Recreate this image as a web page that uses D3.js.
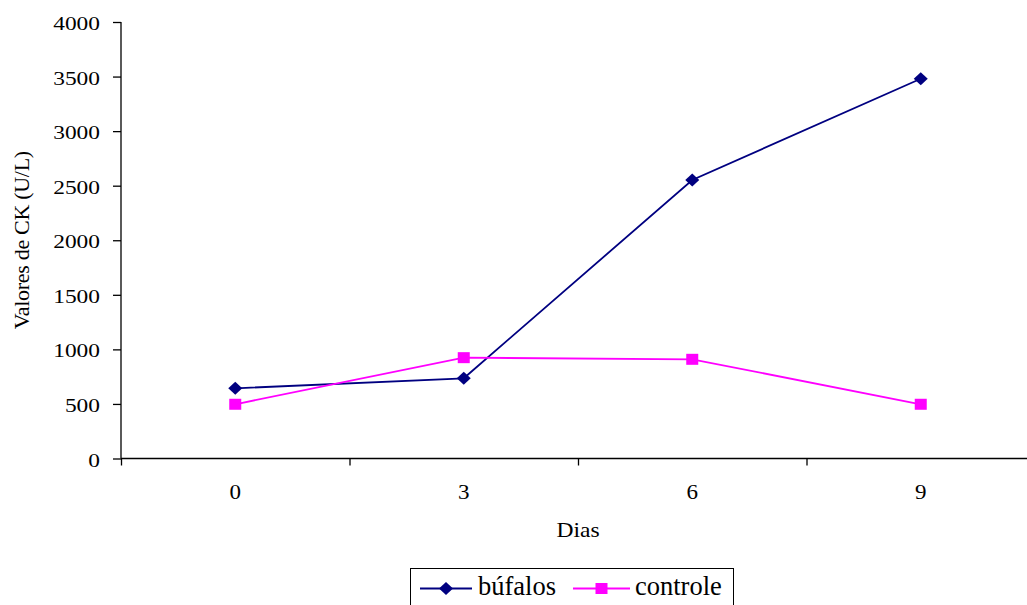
<!DOCTYPE html>
<html>
<head>
<meta charset="utf-8">
<script src="https://cdn.jsdelivr.net/npm/d3@7"></script>
<style>
  html, body { margin: 0; padding: 0; background: #fff; }
  svg { display: block; }
  svg text { font-family: "Liberation Serif", "Times New Roman", Tinos, serif; }
</style>
</head>
<body>
<svg id="chart" width="1027" height="605"></svg>
<script>
// Day categories and CK values (U/L)
const days = ["0", "3", "6", "9"];
const bufalos = [643, 735, 2552, 3480];
const controle = [497, 924, 909, 497];
const yTicks = [0, 500, 1000, 1500, 2000, 2500, 3000, 3500, 4000];
const seriesNames = ["búfalos", "controle"];
const seriesColors = ["#000080", "#FF00FF"];

const FONT = "'Liberation Serif', 'Times New Roman', serif";
const svg = d3.select("#chart");
const plotLeft = 121, plotRight = 1035, plotTop = 22, plotBottom = 458.5;

const x = d3.scaleBand().domain(days).range([plotLeft, plotRight]);
const xEdges = d3.scaleLinear().domain([0, days.length]).range([plotLeft, plotRight]);
const y = d3.scaleLinear().domain([0, 4000]).range([plotBottom, plotTop]);

// stretch text horizontally by factor k
function stretch(sel, k) {
  sel.each(function () {
    const w = this.getComputedTextLength();
    d3.select(this).attr("textLength", w * k).attr("lengthAdjust", "spacingAndGlyphs");
  });
}

// Y axis
const yAxis = svg.append("g")
  .attr("transform", `translate(${plotLeft},0)`)
  .call(d3.axisLeft(y).tickValues(yTicks).tickSize(8).tickPadding(13).tickFormat(d3.format("d")))
  .attr("font-family", null);
yAxis.selectAll("line, path").attr("stroke", "#000").attr("stroke-width", 1.3);
yAxis.select(".domain").attr("d", `M0,${plotTop}V${plotBottom}`);
yAxis.selectAll("text").attr("font-size", 18).style("font-family", FONT).attr("fill", "#000").attr("dy", "0.42em");
stretch(yAxis.selectAll("text"), 1.3);

// X axis: boundary ticks
const xTickAxis = svg.append("g")
  .attr("transform", `translate(0,${plotBottom})`)
  .call(d3.axisBottom(xEdges).tickValues(d3.range(0, days.length + 1)).tickSize(7).tickFormat(""));
xTickAxis.selectAll("line, path").attr("stroke", "#000").attr("stroke-width", 1.3);
xTickAxis.select(".domain").attr("d", `M${plotLeft},0H${plotRight}`);

// X axis: category labels
const xLabAxis = svg.append("g")
  .attr("transform", `translate(0,${plotBottom})`)
  .call(d3.axisBottom(x).tickSize(0).tickPadding(26))
  .attr("font-family", null);
xLabAxis.select(".domain").remove();
xLabAxis.selectAll("text").attr("font-size", 20).style("font-family", FONT).attr("fill", "#000");
stretch(xLabAxis.selectAll("text"), 1.15);

// Axis titles
const xt = svg.append("text").attr("x", (plotLeft + plotRight) / 2).attr("y", 537)
  .attr("text-anchor", "middle").attr("font-size", 21).style("font-family", FONT).text("Dias");
stretch(xt, 1.12);
svg.append("text")
  .attr("transform", `translate(29,${(plotTop + plotBottom) / 2}) rotate(-90)`)
  .attr("text-anchor", "middle").attr("font-size", 22).attr("letter-spacing", -0.3)
  .style("font-family", FONT)
  .text("Valores de CK (U/L)");

// Lines and markers
const line = d3.line().x((d, i) => x(days[i]) + x.bandwidth() / 2).y(d => y(d));
const diamond = (cx, cy) => `M${cx},${cy - 6.5}L${cx + 7},${cy}L${cx},${cy + 6.5}L${cx - 7},${cy}Z`;

[bufalos, controle].forEach((vals, s) => {
  svg.append("path").datum(vals).attr("d", line)
    .attr("fill", "none").attr("stroke", seriesColors[s]).attr("stroke-width", 1.8);
});

svg.append("g").selectAll("path").data(bufalos).join("path")
  .attr("d", (d, i) => diamond(x(days[i]) + x.bandwidth() / 2, y(d)))
  .attr("fill", seriesColors[0]);
svg.append("g").selectAll("rect").data(controle).join("rect")
  .attr("x", (d, i) => x(days[i]) + x.bandwidth() / 2 - 6)
  .attr("y", d => y(d) - 5.5)
  .attr("width", 12).attr("height", 11)
  .attr("fill", seriesColors[1]);

// Legend
const lg = svg.append("g");
lg.append("rect").attr("x", 410.5).attr("y", 568.5).attr("width", 323).attr("height", 50)
  .attr("fill", "#fff").attr("stroke", "#000").attr("stroke-width", 1);
const items = [
  { x0: 420, x1: 472, tx: 478 },
  { x0: 573, x1: 630, tx: 635 }
];
items.forEach((it, s) => {
  const ly = 588.5;
  lg.append("line").attr("x1", it.x0).attr("x2", it.x1).attr("y1", ly).attr("y2", ly)
    .attr("stroke", seriesColors[s]).attr("stroke-width", 1.8);
  const cx = (it.x0 + it.x1) / 2;
  if (s === 0) {
    lg.append("path").attr("d", diamond(cx, ly)).attr("fill", seriesColors[s]);
  } else {
    lg.append("rect").attr("x", cx - 6).attr("y", ly - 5.5).attr("width", 12).attr("height", 11).attr("fill", seriesColors[s]);
  }
  lg.append("text").attr("x", it.tx).attr("y", 595).attr("font-size", 26.5).style("font-family", FONT)
    .attr("fill", "#000").text(seriesNames[s]);
});
</script>
</body>
</html>
